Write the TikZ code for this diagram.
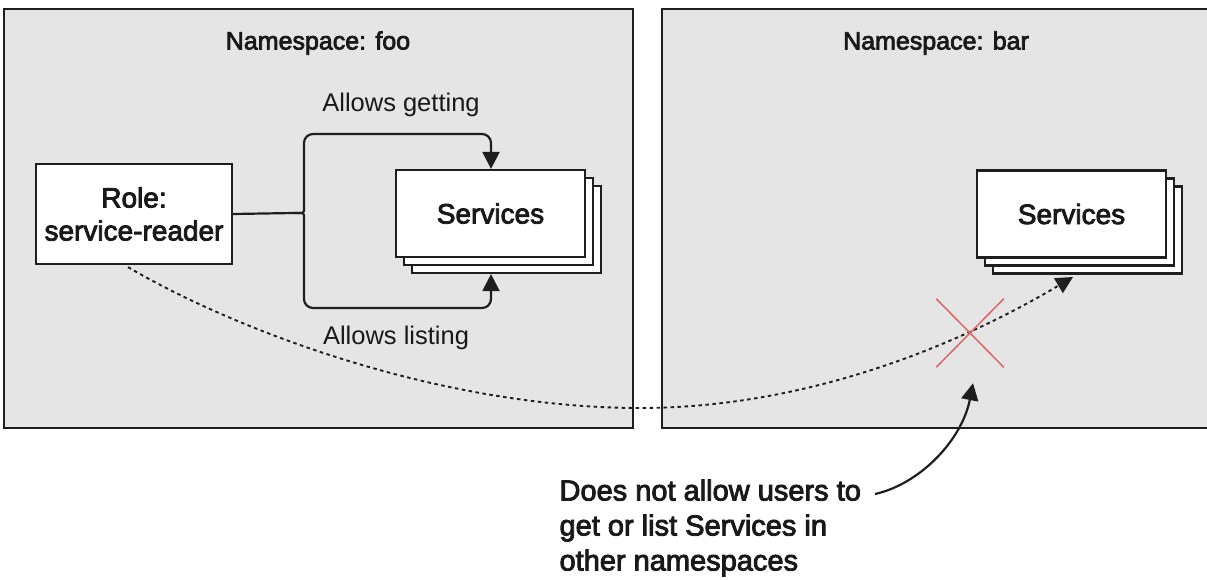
\documentclass[tikz,border=0pt]{standalone}
\usepackage{fontspec}
\setmainfont{Liberation Sans}
\newfontfamily\medfont{Liberation Sans}[FakeBold=3]
\usetikzlibrary{arrows.meta,shapes.misc}
\definecolor{nsfill}{RGB}{229,229,229}
\definecolor{ink}{RGB}{25,25,25}
\definecolor{edge}{RGB}{30,30,30}
\definecolor{denyred}{RGB}{224,100,100}

\begin{document}
\begin{tikzpicture}[x=1pt,y=-1pt,
  nsbox/.style={draw=edge, line width=2.2pt, fill=nsfill},
  card/.style={draw=edge, line width=2.2pt, fill=white, minimum width=189pt,
    minimum height=87pt, inner sep=0pt, text=ink},
  rolebox/.style={card, minimum width=196pt, minimum height=100pt, align=center,
    font=\medfont\fontsize{28}{33}\selectfont},
  svctext/.style={font=\medfont\fontsize{28}{33}\selectfont},
  nstitle/.style={text=ink, font=\medfont\fontsize{25}{30}\selectfont},
  edgelabel/.style={text=ink, font=\fontsize{25.5}{30}\selectfont},
  notetext/.style={text=ink, align=left, font=\medfont\fontsize{29}{35}\selectfont},
  tip/.style={-{Triangle[length=17pt,width=17pt]}},
  conn/.style={draw=edge, line width=2.2pt},
  dotted link/.style={draw=edge, line width=1.9pt, dash pattern=on 3.5pt off 3.5pt},
  denied/.style={cross out, draw=denyred, line width=1.5pt, minimum width=66pt,
    minimum height=67pt, inner sep=0pt}
]
\useasboundingbox (0,0) rectangle (1207,580);

% namespace panels
\path[nsbox] (4,9) rectangle (633,428);
\path[nsbox] (662,9) rectangle (1210,428);
\node[nstitle] (titlefoo) at (318,43) {Namespace: foo};
\node[nstitle] (titlebar) at (936,43) {Namespace: bar};

% role
\node[rolebox] (role) at (134,214) {Role:\\service-reader};

% stacked Services cards in foo
\node[card] (svcA3) at (506.5,229.5) {};
\node[card] (svcA2) at (498.5,221.5) {};
\node[card, svctext] (svcA) at (490.5,213.5) {Services};

% stacked Services cards in bar
\node[card] (svcB3) at (1087.5,230) {};
\node[card] (svcB2) at (1079.5,222) {};
\node[card, svctext] (svcB) at (1071.5,214) {Services};

% brace from the role to the two permissions
\draw[conn] (role.east) -- (294,213) coordinate (split);
\draw[conn, tip, rounded corners=9pt]
  (split) .. controls (304,213) .. (304,202) |- (491,134) -- (svcA.north -| 491,0);
\draw[conn, tip, rounded corners=9pt]
  (split) .. controls (304,213) .. (304,224) |- (491,308) -- (svcA3.south -| 491,0);
\node[edgelabel] (getlabel) at (401,105) {Allows getting};
\node[edgelabel] (listlabel) at (396,338) {Allows listing};

% cross-namespace access that is refused
\coordinate (target) at (1073,277);
\draw[dotted link, tip]
  ([xshift=-6pt,yshift=-2pt]role.south) .. controls (235,330) and (440,408) .. (640,408)
  .. controls (800,408) and (950,350) .. (target);
\node[denied] (cross) at (970,333) {};

% note
\node[notetext, anchor=west] (note) at (556,528)
  {Does not allow users to\\get or list Services in\\other namespaces};
\coordinate (notetail) at (875,494);
\draw[conn, tip] (notetail) .. controls (920,484) and (962,440) ..
  ([xshift=3pt,yshift=-16pt]cross.south);
\end{tikzpicture}
\end{document}
